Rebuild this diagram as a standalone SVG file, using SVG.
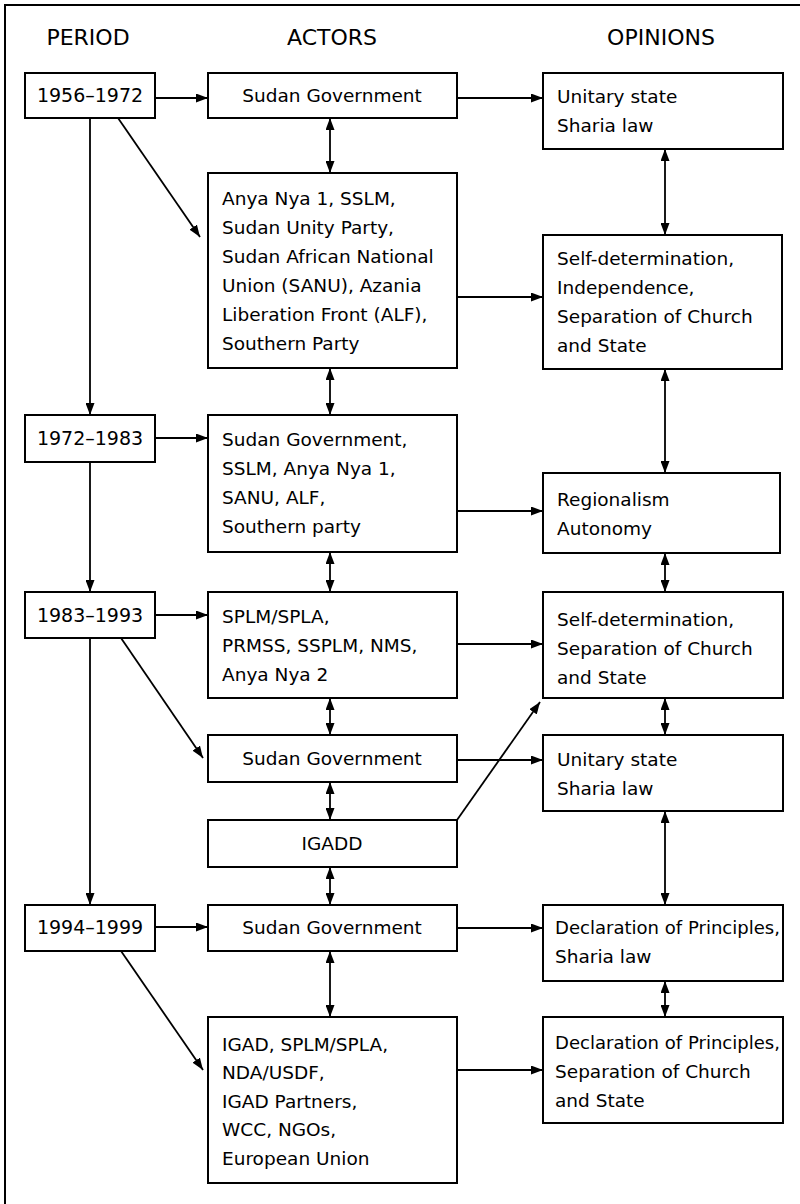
<svg xmlns="http://www.w3.org/2000/svg" width="800" height="1204" viewBox="0 0 800 1204">
<style>
text{font-family:"DejaVu Sans","Liberation Sans",sans-serif;font-size:18.5px;fill:#000}
.hd{font-size:22px;text-anchor:middle}
.c{text-anchor:middle}
.pd{font-size:19px;text-anchor:middle}
rect{fill:#fff;stroke:#000;stroke-width:2}
.ln{stroke:#000;stroke-width:1.8;fill:none}
.a{marker-end:url(#ah)}
.d{marker-end:url(#ah);marker-start:url(#ah)}
</style>
<defs>
<marker id="ah" markerUnits="userSpaceOnUse" markerWidth="12" markerHeight="9" refX="12" refY="4.5" orient="auto-start-reverse">
<path d="M0,0 L12,4.5 L0,9 z" fill="#000"/>
</marker>
</defs>
<rect x="0" y="0" width="800" height="1204" style="stroke:none"/>
<path d="M5,1204 V5 H800" fill="none" stroke="#000" stroke-width="2"/>
<g id="headers">
<text class="hd" x="88" y="45">PERIOD</text>
<text class="hd" x="332" y="45">ACTORS</text>
<text class="hd" x="661" y="45">OPINIONS</text>
</g>
<g id="connectors">
<line class="ln a" x1="155" y1="98" x2="208" y2="98"/>
<line class="ln a" x1="155" y1="438" x2="208" y2="438"/>
<line class="ln a" x1="155" y1="615" x2="208" y2="615"/>
<line class="ln a" x1="155" y1="927" x2="208" y2="927"/>
<line class="ln a" x1="90" y1="118" x2="90" y2="415"/>
<line class="ln a" x1="90" y1="462" x2="90" y2="592"/>
<line class="ln a" x1="90" y1="638" x2="90" y2="905"/>
<line class="ln a" x1="118" y1="118" x2="200" y2="237"/>
<line class="ln a" x1="121" y1="638" x2="203" y2="758"/>
<line class="ln a" x1="121" y1="951" x2="203" y2="1070"/>
<line class="ln d" x1="330" y1="118" x2="330" y2="173"/>
<line class="ln d" x1="330" y1="368" x2="330" y2="415"/>
<line class="ln d" x1="330" y1="552" x2="330" y2="592"/>
<line class="ln d" x1="330" y1="698" x2="330" y2="735"/>
<line class="ln d" x1="330" y1="782" x2="330" y2="820"/>
<line class="ln d" x1="330" y1="867" x2="330" y2="905"/>
<line class="ln d" x1="330" y1="951" x2="330" y2="1017"/>
<line class="ln a" x1="457" y1="98" x2="543" y2="98"/>
<line class="ln a" x1="457" y1="297" x2="543" y2="297"/>
<line class="ln a" x1="457" y1="511" x2="543" y2="511"/>
<line class="ln a" x1="457" y1="644" x2="543" y2="644"/>
<line class="ln a" x1="457" y1="760" x2="543" y2="760"/>
<line class="ln a" x1="457" y1="928" x2="543" y2="928"/>
<line class="ln a" x1="457" y1="1070" x2="543" y2="1070"/>
<line class="ln a" x1="457" y1="820" x2="540" y2="702"/>
<line class="ln d" x1="665" y1="149" x2="665" y2="235"/>
<line class="ln d" x1="665" y1="369" x2="665" y2="473"/>
<line class="ln d" x1="665" y1="553" x2="665" y2="592"/>
<line class="ln d" x1="665" y1="698" x2="665" y2="735"/>
<line class="ln d" x1="665" y1="811" x2="665" y2="905"/>
<line class="ln d" x1="665" y1="981" x2="665" y2="1017"/>
</g>
<g id="p1"><rect x="25" y="73" width="130" height="45"/><text class="pd" x="90" y="102">1956–1972</text></g>
<g id="p2"><rect x="25" y="415" width="130" height="47"/><text class="pd" x="90" y="445">1972–1983</text></g>
<g id="p3"><rect x="25" y="592" width="130" height="46"/><text class="pd" x="90" y="622">1983–1993</text></g>
<g id="p4"><rect x="25" y="905" width="130" height="46"/><text class="pd" x="90" y="934">1994–1999</text></g>
<g id="a1"><rect x="208" y="73" width="249" height="45"/><text class="c" x="332" y="102">Sudan Government</text></g>
<g id="a2"><rect x="208" y="173" width="249" height="195"/>
<text x="222" y="205">Anya Nya 1, SSLM,</text>
<text x="222" y="234">Sudan Unity Party,</text>
<text x="222" y="263">Sudan African National</text>
<text x="222" y="292">Union (SANU), Azania</text>
<text x="222" y="321">Liberation Front (ALF),</text>
<text x="222" y="350">Southern Party</text></g>
<g id="a3"><rect x="208" y="415" width="249" height="137"/>
<text x="222" y="446">Sudan Government,</text>
<text x="222" y="475">SSLM, Anya Nya 1,</text>
<text x="222" y="504">SANU, ALF,</text>
<text x="222" y="533">Southern party</text></g>
<g id="a4"><rect x="208" y="592" width="249" height="106"/>
<text x="222" y="623">SPLM/SPLA,</text>
<text x="222" y="652">PRMSS, SSPLM, NMS,</text>
<text x="222" y="681">Anya Nya 2</text></g>
<g id="a5"><rect x="208" y="735" width="249" height="47"/><text class="c" x="332" y="765">Sudan Government</text></g>
<g id="a6"><rect x="208" y="820" width="249" height="47"/><text class="c" x="332" y="850">IGADD</text></g>
<g id="a7"><rect x="208" y="905" width="249" height="46"/><text class="c" x="332" y="934">Sudan Government</text></g>
<g id="a8"><rect x="208" y="1017" width="249" height="166"/>
<text x="222" y="1051">IGAD, SPLM/SPLA,</text>
<text x="222" y="1079">NDA/USDF,</text>
<text x="222" y="1108">IGAD Partners,</text>
<text x="222" y="1136">WCC, NGOs,</text>
<text x="222" y="1165">European Union</text></g>
<g id="o1"><rect x="543" y="73" width="240" height="76"/>
<text x="557" y="103">Unitary state</text>
<text x="557" y="132">Sharia law</text></g>
<g id="o2"><rect x="543" y="235" width="239" height="134"/>
<text x="557" y="265">Self-determination,</text>
<text x="557" y="294">Independence,</text>
<text x="557" y="323">Separation of Church</text>
<text x="557" y="352">and State</text></g>
<g id="o3"><rect x="543" y="473" width="237" height="80"/>
<text x="557" y="506">Regionalism</text>
<text x="557" y="535">Autonomy</text></g>
<g id="o4"><rect x="543" y="592" width="240" height="106"/>
<text x="557" y="626">Self-determination,</text>
<text x="557" y="655">Separation of Church</text>
<text x="557" y="684">and State</text></g>
<g id="o5"><rect x="543" y="735" width="240" height="76"/>
<text x="557" y="766">Unitary state</text>
<text x="557" y="795">Sharia law</text></g>
<g id="o6"><rect x="543" y="905" width="240" height="76"/>
<text x="555" y="934" textLength="225" lengthAdjust="spacingAndGlyphs">Declaration of Principles,</text>
<text x="555" y="963">Sharia law</text></g>
<g id="o7"><rect x="543" y="1017" width="240" height="106"/>
<text x="555" y="1049" textLength="225" lengthAdjust="spacingAndGlyphs">Declaration of Principles,</text>
<text x="555" y="1078">Separation of Church</text>
<text x="555" y="1107">and State</text></g>
</svg>
